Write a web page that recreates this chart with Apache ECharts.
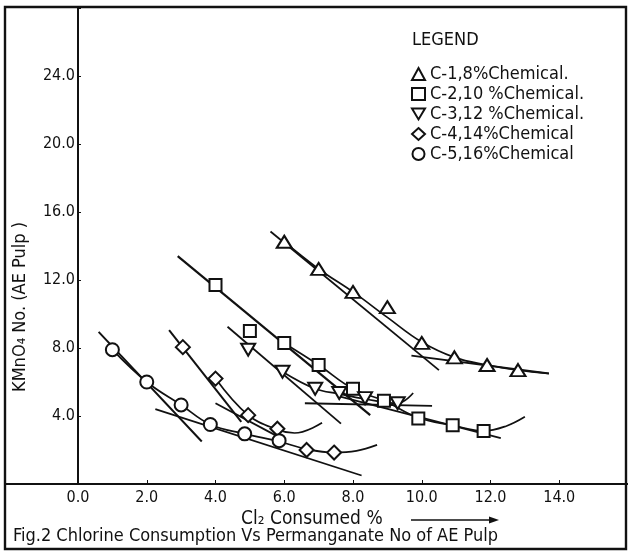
<!DOCTYPE html>
<html>
<head>
<meta charset="utf-8">
<script src="https://cdn.jsdelivr.net/npm/echarts@6/dist/echarts.min.js"></script>
<style>
  html, body { margin: 0; padding: 0; background: #fff; }
  #chart { width: 628px; height: 552px; }
</style>
</head>
<body>
<div id="chart"></div>
<script>
// Cl2 consumed (%) vs KMnO4 number
const c1X = [6.0, 7.0, 8.0, 9.0, 10.0, 10.95, 11.9, 12.8];
const c1Y = [14.25, 12.65, 11.3, 10.4, 8.3, 7.45, 7.0, 6.7];
const c2X = [4.0, 5.0, 6.0, 7.0, 8.0, 8.9, 9.9, 10.9, 11.8];
const c2Y = [11.7, 9.0, 8.3, 7.0, 5.6, 4.9, 3.85, 3.45, 3.12];
const c3X = [4.95, 5.95, 6.9, 7.6, 8.35, 9.3];
const c3Y = [7.9, 6.6, 5.6, 5.35, 5.05, 4.75];
const c4X = [3.05, 4.0, 4.95, 5.8, 6.65, 7.45];
const c4Y = [8.05, 6.2, 4.05, 3.25, 2.0, 1.85];
const c5X = [1.0, 2.0, 3.0, 3.85, 4.85, 5.85];
const c5Y = [7.9, 6.0, 4.65, 3.5, 2.95, 2.55];

// hand-drawn fitted curves and the two tangents drawn on each one
const c1Curve = [[6.0, 14.25], [7.0, 12.65], [8.0, 11.3], [9.0, 9.8], [10.0, 8.35], [10.95, 7.45], [11.9, 7.0], [12.8, 6.7], [13.7, 6.5]];
const c1Steep = [[5.6, 14.85], [10.5, 6.7]];
const c1Flat = [[9.7, 7.55], [13.7, 6.5]];
const c2Curve = [[6.0, 8.28], [7.0, 7.0], [8.0, 5.6], [8.9, 4.9], [9.9, 3.9], [10.9, 3.45], [11.8, 3.12], [12.45, 3.4], [13.0, 3.95]];
const c2Steep = [[2.9, 13.4], [8.5, 4.05]];
const c2Flat = [[7.6, 5.15], [12.3, 2.7]];
const c3Curve = [[5.95, 6.6], [6.9, 5.6], [7.6, 5.3], [8.35, 5.0], [9.3, 4.75], [9.75, 5.35]];
const c3Steep = [[4.35, 9.25], [7.65, 3.55]];
const c3Flat = [[6.6, 4.75], [10.3, 4.6]];
const c4Curve = [[4.0, 6.2], [4.95, 4.05], [5.8, 3.2], [6.3, 3.0], [7.1, 3.6]];
const c4Steep = [[2.65, 9.05], [4.75, 3.65]];
const c4Flat = [[4.0, 4.75], [5.9, 2.7]];
const c5Curve = [[1.0, 7.9], [2.0, 6.0], [3.0, 4.65], [3.85, 3.5], [4.85, 2.95], [5.85, 2.5], [6.65, 2.05], [7.45, 1.85], [8.1, 1.95], [8.7, 2.3]];
const c5Steep = [[0.6, 8.95], [3.6, 2.5]];
const c5Flat = [[2.25, 4.4], [8.25, 0.5]];

const seriesNames = ['C-1,8%Chemical.', 'C-2,10 %Chemical.', 'C-3,12 %Chemical.', 'C-4,14%Chemical', 'C-5,16%Chemical'];

const FONT = "'Liberation Sans Narrow', 'DejaVu Sans Condensed', 'Liberation Sans', sans-serif";
const INK = '#111';

const pts = (xs, ys) => xs.map((x, i) => [x, ys[i]]);

const lineSeries = (name, data, smooth, width) => ({
  name: name,
  type: 'line',
  data: data,
  smooth: smooth,
  symbol: 'none',
  silent: true,
  z: 2,
  lineStyle: { color: INK, width: width }
});

const markSeries = (name, xs, ys, symbol, size, rotate) => ({
  name: name,
  type: 'scatter',
  data: pts(xs, ys),
  symbol: symbol,
  symbolSize: size,
  symbolRotate: rotate || 0,
  z: 5,
  itemStyle: { color: '#fff', borderColor: INK, borderWidth: 2, opacity: 1 }
});

const chart = echarts.init(document.getElementById('chart'));

chart.setOption({
  animation: false,
  textStyle: { fontFamily: FONT, color: INK },
  title: [
    { text: 'LEGEND', left: 407, top: 26, textStyle: { fontSize: 18, fontWeight: 'normal', fontFamily: FONT, color: INK } },
    { text: 'Fig.2 Chlorine Consumption Vs Permanganate No of AE Pulp', left: 8, top: 522,
      textStyle: { fontSize: 18, fontWeight: 'normal', fontFamily: FONT, color: INK } }
  ],
  legend: {
    data: [
      { name: seriesNames[0] },
      { name: seriesNames[1] },
      { name: seriesNames[2], icon: 'path://M0,0L12,0L6,10Z' },
      { name: seriesNames[3] },
      { name: seriesNames[4] }
    ],
    orient: 'vertical',
    left: 406,
    top: 60,
    itemWidth: 13,
    itemHeight: 12,
    itemGap: 2,
    textStyle: { fontSize: 18, fontFamily: FONT, color: INK }
  },
  grid: { left: 78, right: 0, top: 8, bottom: 68, outerBoundsMode: 'none' },
  xAxis: {
    type: 'value',
    min: 0,
    max: 16,
    interval: 2,
    name: 'Cl₂ Consumed %',
    nameLocation: 'start',
    nameGap: 0,
    nameTextStyle: { fontSize: 19, fontFamily: FONT, color: INK, align: 'left', verticalAlign: 'top', padding: [26, 0, 0, 163] },
    splitLine: { show: false },
    axisLine: { lineStyle: { color: INK, width: 2 } },
    axisTick: { inside: true, length: 4, lineStyle: { color: INK } },
    axisLabel: {
      fontSize: 16,
      fontFamily: FONT,
      color: INK,
      margin: 6,
      formatter: v => (v <= 14 ? v.toFixed(1) : '')
    }
  },
  yAxis: {
    type: 'value',
    min: 0,
    max: 28,
    interval: 4,
    splitLine: { show: false },
    axisLine: { lineStyle: { color: INK, width: 2 } },
    axisTick: { inside: true, length: 3, lineStyle: { color: INK } },
    axisLabel: {
      fontSize: 16,
      fontFamily: FONT,
      color: INK,
      margin: 3,
      formatter: v => (v >= 4 && v <= 24 ? v.toFixed(1) : '')
    }
  },
  graphic: [
    { type: 'rect', shape: { x: 5, y: 7, width: 621, height: 542 }, style: { fill: 'none', stroke: INK, lineWidth: 2.4 }, silent: true },
    { type: 'line', shape: { x1: 5, y1: 484, x2: 78, y2: 484 }, style: { stroke: INK, lineWidth: 2 }, silent: true },
    { type: 'text', x: 20, y: 307, rotation: Math.PI / 2,
      style: { text: 'KMnO₄ No. (AE Pulp )', font: '18px ' + FONT, fill: INK, align: 'center', verticalAlign: 'middle', textAlign: 'center', textVerticalAlign: 'middle' } },
    { type: 'line', shape: { x1: 411, y1: 520, x2: 494, y2: 520 }, style: { stroke: INK, lineWidth: 1.6 } },
    { type: 'polygon', shape: { points: [[499, 520], [489, 516.5], [489, 523.5]] }, style: { fill: INK } }
  ],
  series: [
    lineSeries('c1 curve', c1Curve, 0.4, 1.7),
    lineSeries('c1 steep', c1Steep, false, 1.8),
    lineSeries('c1 flat', c1Flat, false, 1.8),
    lineSeries('c2 curve', c2Curve, 0.4, 1.7),
    lineSeries('c2 steep', c2Steep, false, 2.2),
    lineSeries('c2 flat', c2Flat, false, 1.8),
    lineSeries('c3 curve', c3Curve, 0.4, 1.7),
    lineSeries('c3 steep', c3Steep, false, 1.8),
    lineSeries('c3 flat', c3Flat, false, 1.8),
    lineSeries('c4 curve', c4Curve, 0.4, 1.7),
    lineSeries('c4 steep', c4Steep, false, 2),
    lineSeries('c4 flat', c4Flat, false, 1.8),
    lineSeries('c5 curve', c5Curve, 0.4, 1.7),
    lineSeries('c5 steep', c5Steep, false, 2),
    lineSeries('c5 flat', c5Flat, false, 1.8),
    markSeries(seriesNames[0], c1X, c1Y, 'triangle', [15, 12]),
    markSeries(seriesNames[1], c2X, c2Y, 'rect', [12, 12]),
    markSeries(seriesNames[2], c3X, c3Y, 'triangle', [14, 12], 180),
    markSeries(seriesNames[3], c4X, c4Y, 'diamond', [14, 14]),
    markSeries(seriesNames[4], c5X, c5Y, 'circle', 13)
  ]
});

window.addEventListener('resize', () => chart.resize());
</script>
</body>
</html>
